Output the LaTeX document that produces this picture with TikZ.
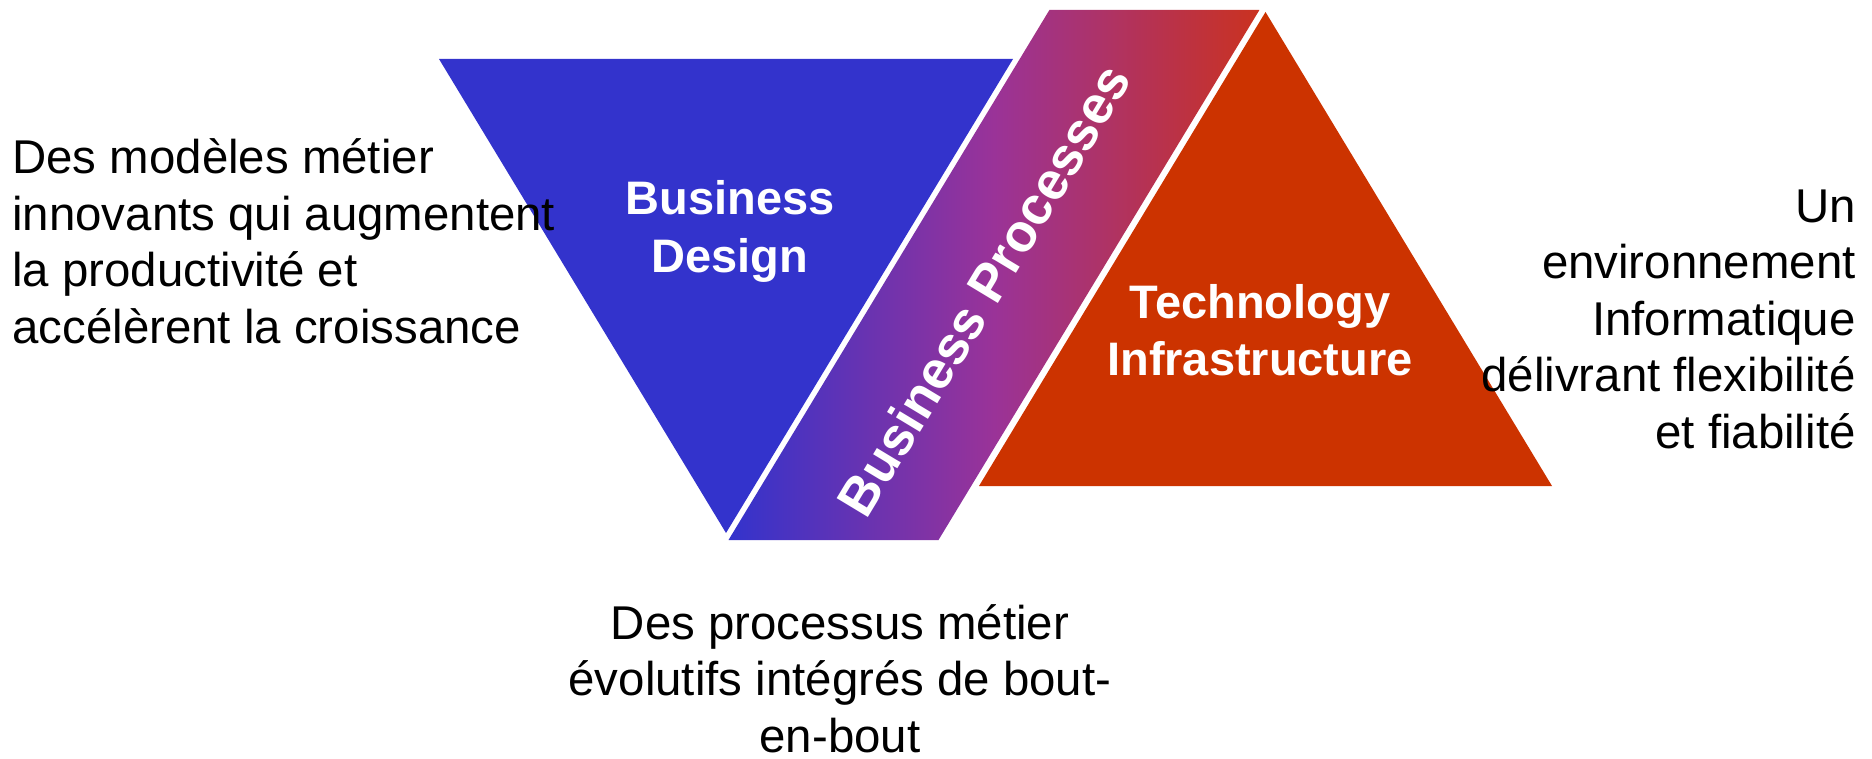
\documentclass[tikz,border=0pt]{standalone}
\usepackage{fontspec}
\setmainfont{Liberation Sans}
\definecolor{bdblue}{HTML}{3333CC}
\definecolor{tired}{HTML}{CC3300}
\definecolor{bpmid}{HTML}{9A3398}
\definecolor{bpred}{HTML}{CA3220}
\pgfdeclarehorizontalshading{bpshade}{100bp}{color(0bp)=(bdblue); color(25bp)=(bdblue); color(50bp)=(bpmid); color(75bp)=(bpred); color(100bp)=(bpred)}
\tikzset{
  txt/.style={inner sep=0pt, text=black, font=\fontsize{23.7}{28.25}\selectfont},
  lbl/.style={inner sep=0pt, text=white, font=\fontsize{23.5}{28.75}\selectfont\bfseries},
  bplbl/.style={inner sep=0pt, text=white, font=\fontsize{26.5}{31}\selectfont\bfseries},
}
\begin{document}
\begin{tikzpicture}[x=0.5pt,y=-0.5pt]
\useasboundingbox (0,0) rectangle (1872,759);
% shapes
\fill[bdblue] (439,59) -- (1013,59) -- (726,533) -- cycle;
\fill[tired] (1265.5,12) -- (1552,486) -- (979,486) -- cycle;
\shade[shading=bpshade] (728.5,540) -- (938.5,540) -- (1259.4,10) -- (1049.4,10) -- cycle;
% labels in shapes
\node[lbl, anchor=base] (bd) at (730,215) {\begin{tabular}[t]{@{}c@{}}Business\\Design\end{tabular}};
\node[lbl, anchor=base] (ti) at (1260,318) {\begin{tabular}[t]{@{}c@{}}Technology\\Infrastructure\end{tabular}};
\node[bplbl, anchor=base, rotate=58.9] (bp) at (1000,300) {Business Processes};
% side texts
\node[txt, anchor=base west] (lefttxt) at (12,174) {\begin{tabular}[t]{@{}l@{}}Des modèles métier\\innovants qui augmentent\\la productivité et\\accélèrent la croissance\end{tabular}};
\node[txt, anchor=base east] (righttxt) at (1856,222) {\begin{tabular}[t]{@{}r@{}}Un\\environnement\\Informatique\\délivrant flexibilité\\et fiabilité\end{tabular}};
\node[txt, anchor=base] (bottomtxt) at (840,639) {\begin{tabular}[t]{@{}c@{}}Des processus métier\\évolutifs intégrés de bout-\\en-bout\end{tabular}};
\end{tikzpicture}
\end{document}
